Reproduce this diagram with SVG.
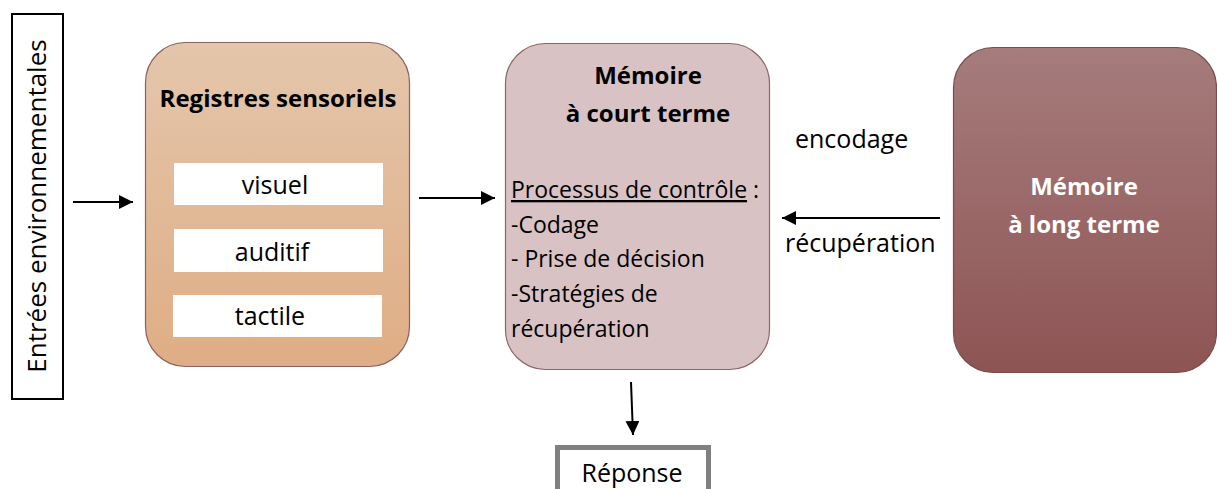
<svg xmlns="http://www.w3.org/2000/svg" width="1217" height="489" viewBox="0 0 1217 489">
<style>
text{font-family:"Open Sans","Liberation Sans",sans-serif;fill:#000;}
.t{font-size:25px;}
.s{font-size:23px;}
.b{font-size:24px;font-weight:bold;}
.w{fill:#fff;}
.c{text-anchor:middle;}
.conn{stroke:#000;stroke-width:2;fill:none;}
</style>
<defs>
<linearGradient id="gReg" x1="0" y1="0" x2="0" y2="1">
<stop offset="0" stop-color="#e4c6ab"/>
<stop offset="1" stop-color="#dfad85"/>
</linearGradient>
<linearGradient id="gLong" x1="0" y1="0" x2="0" y2="1">
<stop offset="0" stop-color="#a67c7c"/>
<stop offset="1" stop-color="#8e5454"/>
</linearGradient>
<marker id="ah" markerUnits="userSpaceOnUse" markerWidth="16" markerHeight="14" refX="14" refY="7" orient="auto">
<path d="M0,0 L14,7 L0,14 Z" fill="#000"/>
</marker>
</defs>

<g id="entrees">
<rect x="12" y="14" width="51" height="385" fill="#fff" stroke="#000" stroke-width="2"/>
<text class="c" transform="translate(46,206) rotate(-90)" style="font-size:26px">Entrées environnementales</text>
</g>

<g id="registres">
<rect x="145.5" y="42.5" width="264" height="324" rx="40" fill="url(#gReg)" stroke="#8c6060" stroke-width="1.2"/>
<text class="b c" x="278" y="107">Registres sensoriels</text>
<g id="visuel"><rect x="174" y="163" width="209" height="42" fill="#fff"/><text class="t c" x="275" y="194">visuel</text></g>
<g id="auditif"><rect x="174" y="229" width="209" height="43" fill="#fff"/><text class="t c" x="272" y="261">auditif</text></g>
<g id="tactile"><rect x="173" y="295" width="209" height="42" fill="#fff"/><text class="t c" x="270" y="325">tactile</text></g>
</g>

<g id="mct">
<rect x="505.5" y="43.5" width="264" height="326" rx="40" fill="#d9c2c4" stroke="#8d6565" stroke-width="1.2"/>
<text class="b c" x="648" y="84">Mémoire</text>
<text class="b c" x="648" y="122">à court terme</text>
<text class="s" x="511" y="198"><tspan text-decoration="underline">Processus de contrôle</tspan> :</text>
<text class="s" x="511" y="233">-Codage</text>
<text class="s" x="511" y="267">- Prise de décision</text>
<text class="s" x="511" y="302">-Stratégies de</text>
<text class="s" x="511" y="337">récupération</text>
</g>

<g id="mlt">
<rect x="953.5" y="47.5" width="263" height="325" rx="40" fill="url(#gLong)" stroke="#7a4c4c" stroke-width="1.2"/>
<text class="b c w" x="1084" y="195">Mémoire</text>
<text class="b c w" x="1084" y="233">à long terme</text>
</g>

<g id="reponse">
<rect x="557.5" y="447.5" width="151" height="50" fill="#fff" stroke="#808080" stroke-width="5"/>
<text class="t c" x="632" y="482">Réponse</text>
</g>

<g id="connectors">
<line class="conn" x1="73" y1="202" x2="133" y2="202" marker-end="url(#ah)"/>
<line class="conn" x1="419" y1="198" x2="495" y2="198" marker-end="url(#ah)"/>
<line class="conn" x1="940" y1="218" x2="782" y2="218" marker-end="url(#ah)"/>
<line class="conn" x1="631" y1="382" x2="633" y2="435" marker-end="url(#ah)"/>
<text class="t" x="795" y="148">encodage</text>
<text class="t" x="785" y="252">récupération</text>
</g>
</svg>
